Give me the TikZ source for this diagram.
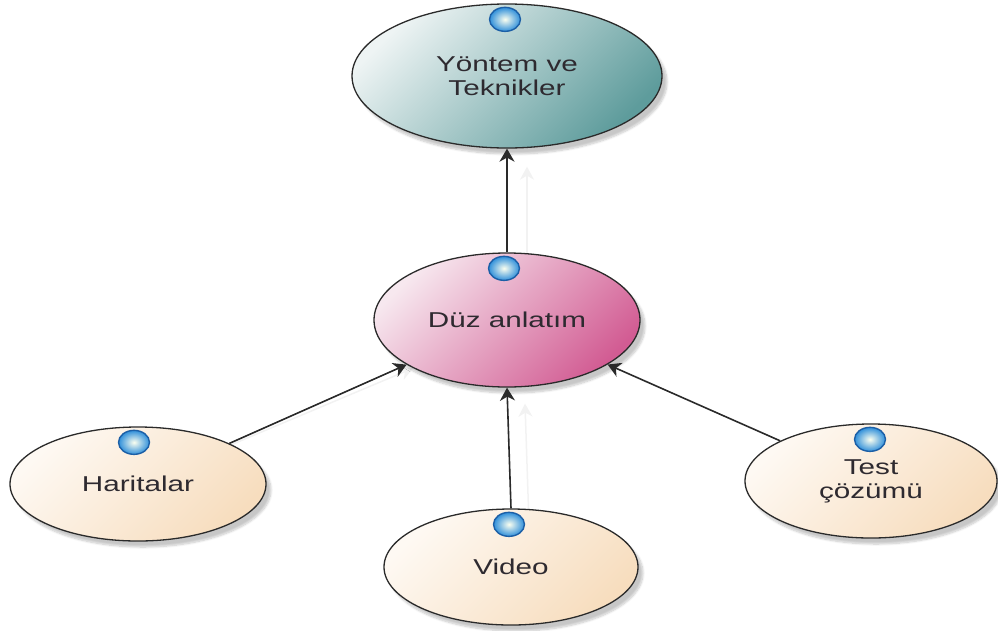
\documentclass[tikz,border=0pt]{standalone}
\usepackage{fontspec}
\setmainfont{Liberation Sans}
\usetikzlibrary{shapes.geometric,arrows.meta,shadows.blur,backgrounds}
\definecolor{linecol}{HTML}{2A2A2A}
\definecolor{txtcol}{HTML}{2E2A30}
\definecolor{tealA}{HTML}{EEF4F4}
\definecolor{tealM}{HTML}{D4E5E5}
\definecolor{tealB}{HTML}{5E9C9C}
\definecolor{pinkA}{HTML}{F7E8EF}
\definecolor{pinkM}{HTML}{ECBDD2}
\definecolor{pinkB}{HTML}{D25C93}
\definecolor{creamA}{HTML}{FEF9F3}
\definecolor{creamM}{HTML}{FCEEDD}
\definecolor{creamB}{HTML}{F7DDBE}
\definecolor{ballIn}{HTML}{FBFFF0}
\definecolor{ballOut}{HTML}{2F8FDA}
\definecolor{ballRim}{HTML}{1C5FA6}
\newcommand{\stx}[1]{\scalebox{1.38}[1]{#1}}
\tikzset{
  oval/.style={ellipse, draw=linecol, line width=1.3pt, inner sep=0pt,
    text=txtcol, font=\fontsize{21.5}{24}\selectfont, align=center,
    blur shadow={shadow xshift=5pt, shadow yshift=-6pt, shadow blur steps=8, shadow opacity=22}},
  ovaltop/.style={oval, left color=tealA, middle color=tealM, right color=tealB, shading angle=45},
  ovalmid/.style={oval, left color=pinkA, middle color=pinkM, right color=pinkB, shading angle=45},
  ovalleaf/.style={oval, left color=creamA, middle color=creamM, right color=creamB, shading angle=45},
  ballnode/.style={ellipse, minimum width=31pt, minimum height=24pt, inner sep=0pt,
    draw=ballRim, line width=1.4pt, inner color=ballIn, outer color=ballOut},
  conn/.style={draw=linecol, line width=1.6pt, -{Stealth[length=13pt, width=15pt, inset=4pt]}},
  connshadow/.style={draw=black!5, line width=1.5pt, -{Stealth[length=13pt, width=14pt, inset=4pt]}}
}
\begin{document}
\begin{tikzpicture}[x=1pt, y=-1pt]
\useasboundingbox (0,0) rectangle (998,630);
\node[ovaltop, minimum width=310pt, minimum height=144pt] (top) at (507,76) {\stx{Yöntem ve}\\\stx{Teknikler}};
\node[ovalmid, minimum width=266pt, minimum height=134pt] (mid) at (507,320) {\stx{Düz anlatım}};
\node[ovalleaf, minimum width=256pt, minimum height=114pt] (har) at (138,484) {\stx{Haritalar}};
\node[ovalleaf, minimum width=254pt, minimum height=116pt] (vid) at (511,567) {\stx{Video}};
\node[ovalleaf, minimum width=252pt, minimum height=114pt] (tst) at (871,481) {\stx{Test}\\\stx{çözümü}};
% faint connector shadows
\begin{scope}[on background layer]
\draw[connshadow] ([shift={(20pt,-18pt)}]mid.north) -- ([shift={(20pt,-18pt)}]top.south);
\draw[connshadow] ([shift={(18pt,-16pt)}]har) -- ([shift={(18pt,-16pt)}]mid);
\draw[connshadow] ([shift={(18pt,-16pt)}]vid.north) -- ([shift={(18pt,-16pt)}]mid.south);
\end{scope}
% connectors
\draw[conn] (mid.north) -- (top.south);
\draw[conn] (har) -- (mid);
\draw[conn] (vid.north) -- (mid.south);
\draw[conn] (tst) -- (mid);
% balls
\node[ballnode] (topball) at ([xshift=-2pt,yshift=-16pt]top.north) {};
\node[ballnode] (midball) at ([xshift=-3pt,yshift=-16pt]mid.north) {};
\node[ballnode] (harball) at ([xshift=-4pt,yshift=-16pt]har.north) {};
\node[ballnode] (vidball) at ([xshift=-2pt,yshift=-16pt]vid.north) {};
\node[ballnode] (tstball) at ([xshift=-1pt,yshift=-16pt]tst.north) {};
\end{tikzpicture}
\end{document}
